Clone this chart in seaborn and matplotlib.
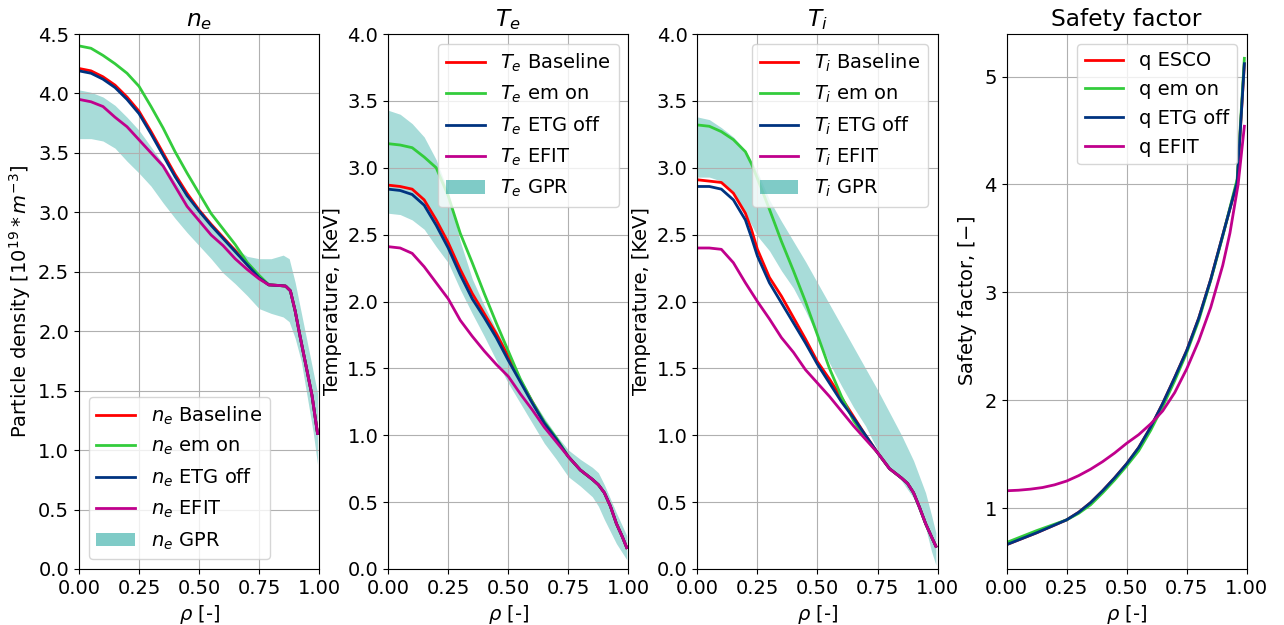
import matplotlib
matplotlib.use('Agg')
import matplotlib.pyplot as plt
import seaborn as sns

# Adatok: rho rácsok és profilok (leolvasva az ábráról)
rho_ne = [0, .05, .1, .15, .2, .25, .3, .35, .4, .45, .5, .55, .6, .65, .7, .75,
          .79, .83, .86, .88, .9, .92, .94, .97, .993]
ne_tail = [2.39, 2.385, 2.38, 2.34, 2.17, 1.96, 1.76, 1.46, 1.14]
ne_base = [4.21, 4.19, 4.14, 4.07, 3.97, 3.85, 3.68, 3.50, 3.32, 3.16, 3.02, 2.90, 2.79, 2.68, 2.56, 2.45] + ne_tail
ne_em = [4.40, 4.38, 4.32, 4.25, 4.17, 4.06, 3.89, 3.71, 3.51, 3.33, 3.16, 2.99, 2.86, 2.73, 2.58, 2.47] + ne_tail
ne_etg = [4.19, 4.17, 4.12, 4.05, 3.95, 3.83, 3.66, 3.48, 3.30, 3.14, 3.01, 2.89, 2.78, 2.67, 2.56, 2.45] + ne_tail
ne_efit = [3.95, 3.93, 3.89, 3.80, 3.72, 3.61, 3.50, 3.39, 3.22, 3.05, 2.93, 2.81, 2.72, 2.61, 2.52, 2.44] + ne_tail

rho_ne_gpr = [0, .05, .1, .15, .2, .25, .3, .35, .4, .45, .5, .55, .6, .65, .7, .75,
              .8, .85, .875, .9, .925, .95, .975, .993]
ne_gpr_hi = [4.03, 4.01, 3.97, 3.90, 3.80, 3.69, 3.55, 3.41, 3.26, 3.12, 2.99, 2.88, 2.79, 2.70, 2.63, 2.61,
             2.61, 2.64, 2.61, 2.41, 2.16, 1.91, 1.66, 1.48]
ne_gpr_lo = [3.62, 3.62, 3.60, 3.54, 3.43, 3.33, 3.22, 3.08, 2.95, 2.83, 2.72, 2.61, 2.49, 2.40, 2.30, 2.19,
             2.15, 2.12, 2.08, 1.94, 1.75, 1.45, 1.15, 0.88]

rho_te = [0, .05, .1, .15, .2, .25, .3, .35, .4, .45, .5, .55, .6, .65, .7,
          .75, .8, .85, .875, .9, .925, .95, .975, .993]
te_tail = [0.84, 0.74, 0.67, 0.63, 0.57, 0.47, 0.34, 0.24, 0.16]
te_base = [2.87, 2.86, 2.84, 2.76, 2.61, 2.44, 2.24, 2.06, 1.91, 1.76, 1.59, 1.41, 1.25, 1.09, 0.97] + te_tail
te_em = [3.18, 3.17, 3.15, 3.08, 3.00, 2.79, 2.51, 2.29, 2.06, 1.84, 1.63, 1.42, 1.25, 1.10, 0.98] + te_tail
te_etg = [2.84, 2.83, 2.80, 2.72, 2.57, 2.40, 2.20, 2.02, 1.88, 1.73, 1.56, 1.40, 1.24, 1.09, 0.97] + te_tail
te_efit = [2.41, 2.40, 2.36, 2.26, 2.14, 2.02, 1.86, 1.74, 1.63, 1.53, 1.44, 1.31, 1.19, 1.06, 0.95] + te_tail

rho_te_gpr = [0, .05, .1, .15, .2, .25, .3, .35, .4, .45, .5, .55, .6, .65, .7, .75,
              .8, .85, .875, .9, .95, .993]
te_gpr_hi = [3.43, 3.40, 3.33, 3.23, 3.06, 2.82, 2.45, 2.17, 1.97, 1.79, 1.62, 1.44, 1.27, 1.13, 1.00, 0.89,
             0.82, 0.76, 0.72, 0.63, 0.42, 0.25]
te_gpr_lo = [2.66, 2.65, 2.61, 2.54, 2.41, 2.29, 2.09, 1.91, 1.74, 1.56, 1.39, 1.24, 1.09, 0.94, 0.82, 0.69,
             0.62, 0.54, 0.47, 0.37, 0.19, 0.07]

rho_ti = [0, .05, .1, .15, .2, .225, .25, .3, .35, .4, .45, .5, .55, .6, .65, .7, .75,
          .8, .85, .875, .9, .925, .95, .975, .993]
ti_tail = [0.75, 0.68, 0.64, 0.57, 0.46, 0.34, 0.24, 0.17]
ti_base = [2.91, 2.90, 2.89, 2.81, 2.66, 2.54, 2.39, 2.18, 2.04, 1.88, 1.72, 1.55, 1.42, 1.28, 1.14, 1.00, 0.87] + ti_tail
ti_em = [3.32, 3.31, 3.27, 3.21, 3.12, 3.03, 2.92, 2.69, 2.45, 2.23, 2.00, 1.75, 1.50, 1.29, 1.11, 0.98, 0.87] + ti_tail
ti_etg = [2.86, 2.86, 2.84, 2.76, 2.61, 2.48, 2.34, 2.14, 1.99, 1.84, 1.69, 1.53, 1.39, 1.25, 1.13, 1.00, 0.87] + ti_tail
ti_efit = [2.40, 2.40, 2.39, 2.29, 2.14, 2.07, 2.00, 1.87, 1.73, 1.62, 1.49, 1.39, 1.29, 1.18, 1.07, 0.97, 0.87] + ti_tail

rho_ti_gpr = [0, .05, .1, .15, .2, .25, .3, .35, .4, .45, .5, .55, .6, .65, .7, .75,
              .8, .85, .9, .95, .975, .993]
ti_gpr_hi = [3.38, 3.36, 3.30, 3.23, 3.13, 2.97, 2.76, 2.60, 2.45, 2.30, 2.14, 1.98, 1.82, 1.66, 1.50, 1.34,
             1.17, 1.00, 0.81, 0.57, 0.40, 0.27]
ti_gpr_lo = [2.93, 2.93, 2.90, 2.82, 2.66, 2.49, 2.38, 2.23, 2.10, 1.93, 1.74, 1.54, 1.37, 1.21, 1.07, 0.89,
             0.76, 0.66, 0.53, 0.31, 0.13, 0.03]

rho_q = [0, .125, .25, .3, .35, .4, .45, .5, .55, .6, .65, .7, .75, .8, .85, .9, .96, .99]
q_esco = [0.66, 0.77, 0.89, 0.96, 1.05, 1.16, 1.28, 1.41, 1.56, 1.75, 1.97, 2.21, 2.46, 2.76, 3.12, 3.53, 4.02, 5.12]
q_em = [0.68, 0.79, 0.89, 0.95, 1.03, 1.14, 1.26, 1.39, 1.53, 1.72, 1.94, 2.18, 2.44, 2.74, 3.11, 3.52, 4.05, 5.17]
q_etg = [0.66, 0.77, 0.89, 0.96, 1.05, 1.16, 1.28, 1.41, 1.56, 1.75, 1.97, 2.21, 2.46, 2.76, 3.12, 3.53, 4.02, 5.12]
rho_q_efit = [0, .05, .1, .15, .2, .25, .3, .35, .4, .45, .5, .55, .6, .65, .7, .75,
              .8, .85, .9, .93, .964, .99]
q_efit = [1.16, 1.165, 1.175, 1.19, 1.215, 1.25, 1.30, 1.36, 1.43, 1.51, 1.60, 1.68, 1.78, 1.90, 2.07, 2.29,
          2.55, 2.86, 3.25, 3.55, 4.00, 4.54]

szinek = {'base': '#ff0000', 'em': '#33cc3c', 'etg': '#003380', 'efit': '#c0008c'}
gpr_szin = '#009991'

plt.rcParams['font.size'] = 14
plt.rcParams['font.family'] = ['DejaVu Sans']

fig, axes = plt.subplots(1, 4, figsize=(12.84, 6.25))
fig.subplots_adjust(left=0.0615, right=0.971, bottom=0.0896, top=0.9456, wspace=0.287)


def profil(ax, rho, sorok, rho_gpr, lo, hi, nev, cim, ylabel, ymax, loc):
    for (vals, kulcs, cimke) in sorok:
        sns.lineplot(x=rho, y=vals, ax=ax, color=szinek[kulcs], lw=2, label=nev + ' ' + cimke)
    ax.fill_between(rho_gpr, lo, hi, color=gpr_szin, alpha=0.34, lw=0, label=nev + ' GPR')
    ax.set_xlim(0, 1)
    ax.set_ylim(0, ymax)
    ax.set_title(cim)
    ax.set_xlabel(r'$\rho$ [-]')
    ax.set_ylabel(ylabel)
    ax.grid(True)
    leg = ax.legend(loc=loc)
    leg.legend_handles[-1].set_alpha(0.5)


profil(axes[0], rho_ne, [(ne_base, 'base', 'Baseline'), (ne_em, 'em', 'em on'),
                         (ne_etg, 'etg', 'ETG off'), (ne_efit, 'efit', 'EFIT')],
       rho_ne_gpr, ne_gpr_lo, ne_gpr_hi, '$n_e$', '$n_e$',
       r'Particle density [$10^{19} * m^{-3}$]', 4.5, 'lower left')
profil(axes[1], rho_te, [(te_base, 'base', 'Baseline'), (te_em, 'em', 'em on'),
                         (te_etg, 'etg', 'ETG off'), (te_efit, 'efit', 'EFIT')],
       rho_te_gpr, te_gpr_lo, te_gpr_hi, '$T_e$', '$T_e$',
       'Temperature, [KeV]', 4.0, 'upper right')
profil(axes[2], rho_ti, [(ti_base, 'base', 'Baseline'), (ti_em, 'em', 'em on'),
                         (ti_etg, 'etg', 'ETG off'), (ti_efit, 'efit', 'EFIT')],
       rho_ti_gpr, ti_gpr_lo, ti_gpr_hi, '$T_i$', '$T_i$',
       'Temperature, [KeV]', 4.0, 'upper right')

# Biztonsági tényező
ax = axes[3]
sns.lineplot(x=rho_q, y=q_esco, ax=ax, color=szinek['base'], lw=2, label='q ESCO')
sns.lineplot(x=rho_q, y=q_em, ax=ax, color=szinek['em'], lw=2, label='q em on')
sns.lineplot(x=rho_q, y=q_etg, ax=ax, color=szinek['etg'], lw=2, label='q ETG off')
sns.lineplot(x=rho_q_efit, y=q_efit, ax=ax, color=szinek['efit'], lw=2, label='q EFIT')
ax.set_xlim(0, 1)
ax.set_title('Safety factor')
ax.set_xlabel(r'$\rho$ [-]')
ax.set_ylabel(r'Safety factor, $[-]$')
ax.grid(True)
ax.legend(loc='upper right')

fig.savefig('out.png', dpi=100)
